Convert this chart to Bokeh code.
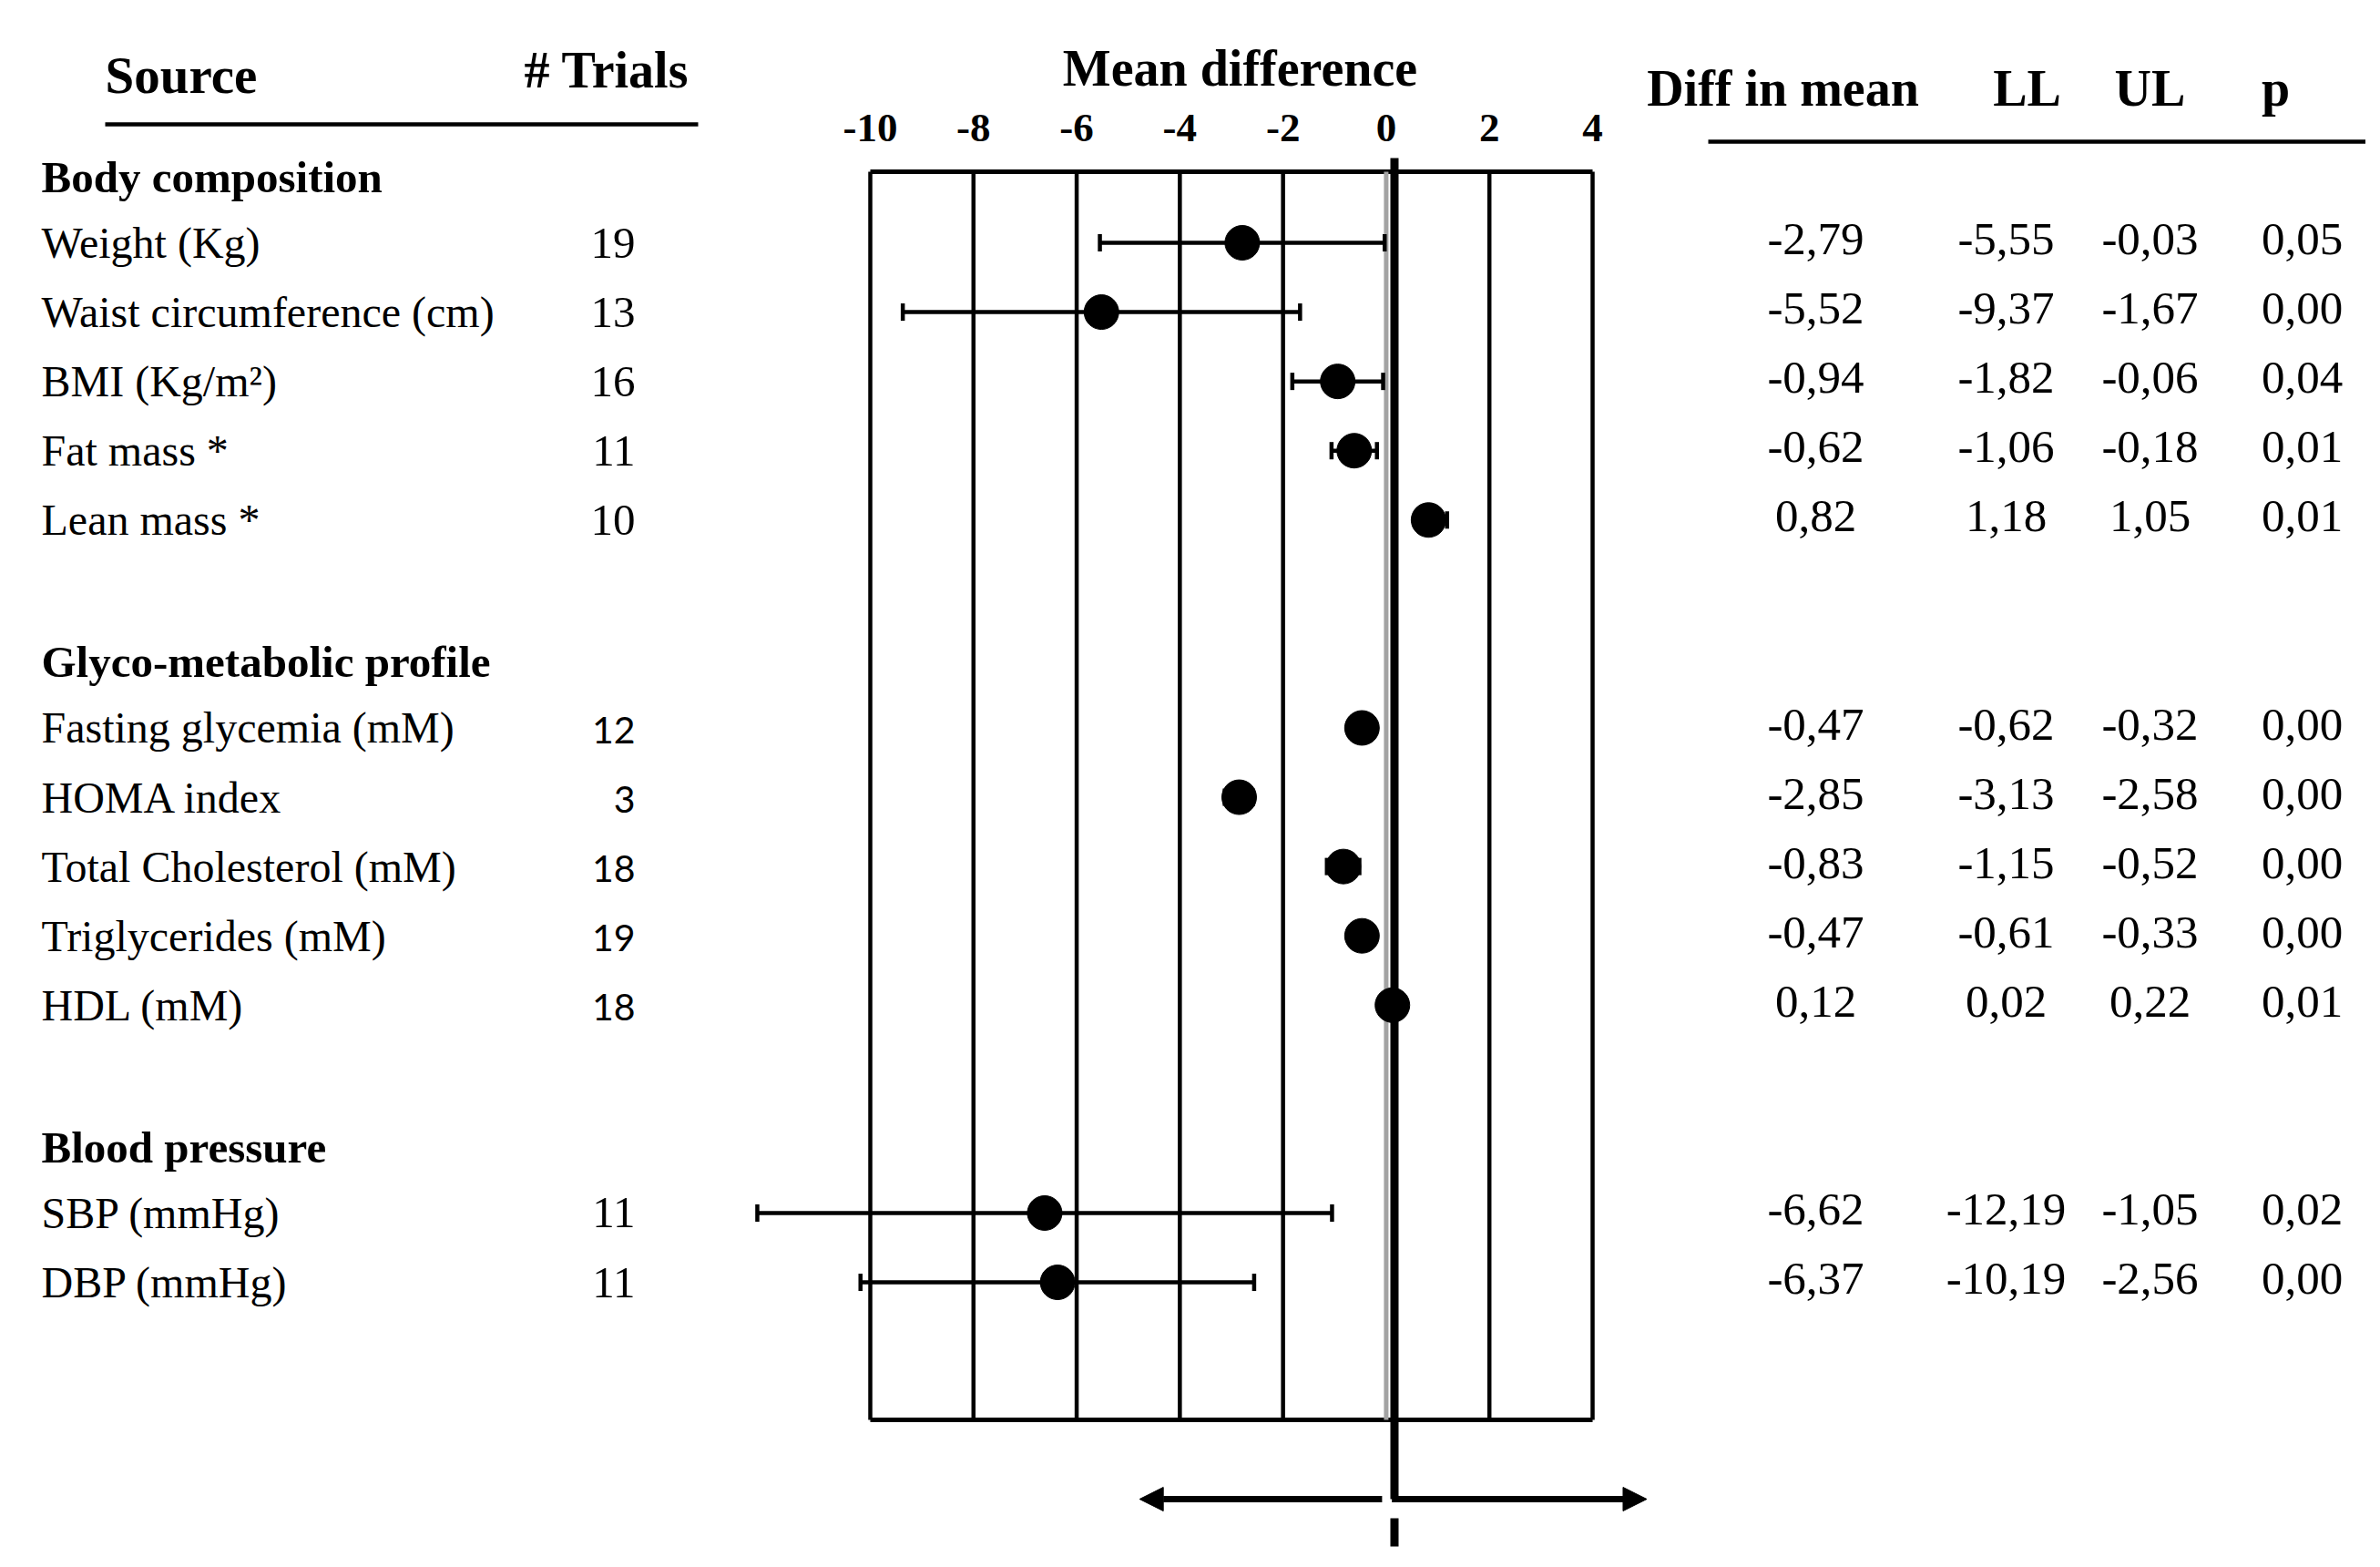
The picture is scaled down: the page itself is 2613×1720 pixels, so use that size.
from bokeh.plotting import figure
from bokeh.models import Range1d, Arrow, NormalHead
from bokeh.core.properties import value
from bokeh.embed import file_html
from bokeh.resources import INLINE

# ---------------- data ----------------
groups = ["Body composition", "Glyco-metabolic profile", "Blood pressure"]

body_labels = ["Weight (Kg)", "Waist circumference (cm)", "BMI (Kg/m\u00b2)", "Fat mass *", "Lean mass *"]
body_trials = [19, 13, 16, 11, 10]
body_diff = [-2.79, -5.52, -0.94, -0.62, 0.82]
body_ll = [-5.55, -9.37, -1.82, -1.06, 1.18]
body_ul = [-0.03, -1.67, -0.06, -0.18, 1.05]
body_p = [0.05, 0.00, 0.04, 0.01, 0.01]

glyco_labels = ["Fasting glycemia  (mM)", "HOMA index", "Total Cholesterol (mM)", "Triglycerides (mM)", "HDL (mM)"]
glyco_trials = [12, 3, 18, 19, 18]
glyco_diff = [-0.47, -2.85, -0.83, -0.47, 0.12]
glyco_ll = [-0.62, -3.13, -1.15, -0.61, 0.02]
glyco_ul = [-0.32, -2.58, -0.52, -0.33, 0.22]
glyco_p = [0.00, 0.00, 0.00, 0.00, 0.01]

bp_labels = ["SBP (mmHg)", "DBP (mmHg)"]
bp_trials = [11, 11]
bp_diff = [-6.62, -6.37]
bp_ll = [-12.19, -10.19]
bp_ul = [-1.05, -2.56]
bp_p = [0.02, 0.00]

x_ticks = [-10, -8, -6, -4, -2, 0, 2, 4]

# ---------------- layout constants (pixels) ----------------
W, H = 2597, 1704
X_LEFT_PX, X_RIGHT_PX = 955, 1748      # pixel positions of -10 and 4
FRAME_TOP_PX, FRAME_BOT_PX = 188, 1558
ROW0_PX, ROW_STEP = 266.0, 76.07
SERIF = value("Liberation Serif")
SANS = value("Lato")

k = (x_ticks[-1] - x_ticks[0]) / (X_RIGHT_PX - X_LEFT_PX)

p = figure(width=W, height=H,
           x_range=Range1d(0, W), y_range=Range1d(H, 0),
           output_backend="svg", toolbar_location=None,
           x_axis_location=None, y_axis_location=None, min_border=0)
p.title.visible = False
p.grid.visible = False
p.outline_line_color = None
p.background_fill_color = "white"
p.border_fill_color = "white"
p.extra_x_ranges = {"md": Range1d(x_ticks[0] - X_LEFT_PX * k,
                                  x_ticks[-1] + (W - X_RIGHT_PX) * k)}
p.extra_y_ranges = {"rows": Range1d((H - ROW0_PX) / ROW_STEP, -ROW0_PX / ROW_STEP)}

# ---------------- assemble rows ----------------
group_data = [
    (body_labels, body_trials, body_diff, body_ll, body_ul, body_p, "serif"),
    (glyco_labels, glyco_trials, glyco_diff, glyco_ll, glyco_ul, glyco_p, "sans"),
    (bp_labels, bp_trials, bp_diff, bp_ll, bp_ul, bp_p, "serif"),
]
rows, labels, trials, diffs, lls, uls, ps, tfonts = [], [], [], [], [], [], [], []
header_rows = []
r = 0
for (lab, tr, d, lo, hi, pv, tf) in group_data:
    header_rows.append(r - 0.95)
    for i in range(len(lab)):
        rows.append(r + i)
    labels += lab; trials += tr; diffs += d; lls += lo; uls += hi; ps += pv
    tfonts += [tf] * len(lab)
    r += len(lab) + 2

fmt = lambda v: ("%.2f" % v).replace(".", ",")

# ---------------- frame and grid ----------------
grid_x = [t for t in x_ticks if t != 0]
p.segment(x0=grid_x, x1=grid_x, y0=[FRAME_TOP_PX] * len(grid_x), y1=[FRAME_BOT_PX] * len(grid_x),
          line_color="black", line_width=4.5, x_range_name="md")
p.segment(x0=[x_ticks[0]] * 2, x1=[x_ticks[-1]] * 2, y0=[FRAME_TOP_PX, FRAME_BOT_PX],
          y1=[FRAME_TOP_PX, FRAME_BOT_PX], line_color="black", line_width=5, x_range_name="md")
p.segment(x0=[0], x1=[0], y0=[FRAME_TOP_PX], y1=[FRAME_BOT_PX], line_color="#a3a3a3",
          line_width=5, x_range_name="md")

# thick reference line, arrows, dashed tail
ref_x = 0.16
p.segment(x0=[ref_x], x1=[ref_x], y0=[173], y1=[1645], line_color="black",
          line_width=9, x_range_name="md")
p.segment(x0=[ref_x], x1=[ref_x], y0=[1666], y1=[1740], line_color="black",
          line_width=9, line_dash="31 20", x_range_name="md")
p.add_layout(Arrow(end=NormalHead(size=26, fill_color="black", line_color="black"),
                   x_start=-0.08, y_start=1645, x_end=-4.78, y_end=1645,
                   line_width=7, line_color="black", x_range_name="md"))
p.add_layout(Arrow(end=NormalHead(size=26, fill_color="black", line_color="black"),
                   x_start=ref_x - 0.05, y_start=1645, x_end=5.05, y_end=1645,
                   line_width=7, line_color="black", x_range_name="md"))

# ---------------- forest marks ----------------
p.segment(x0=lls, x1=uls, y0=rows, y1=rows, line_color="black", line_width=4.5,
          x_range_name="md", y_range_name="rows")
cap = 0.125
p.segment(x0=lls + uls, x1=lls + uls,
          y0=[y - cap for y in rows] * 2, y1=[y + cap for y in rows] * 2,
          line_color="black", line_width=4.5, x_range_name="md", y_range_name="rows")
p.scatter(x=diffs, y=rows, size=38, marker="circle", fill_color="black",
          line_color="black", x_range_name="md", y_range_name="rows")

# ---------------- top axis labels ----------------
p.text(x=x_ticks, y=[140] * len(x_ticks), text=[str(t) for t in x_ticks],
       text_font=SERIF, text_font_style="bold", text_font_size="45px",
       text_align="center", text_baseline="middle", x_range_name="md")
p.text(x=[1361], y=[74], text=["Mean difference"], text_font=SERIF,
       text_font_style="bold", text_font_size="56px", text_align="center",
       text_baseline="middle")

# ---------------- left table ----------------
p.text(x=[115], y=[82], text=["Source"], text_font=SERIF, text_font_style="bold",
       text_font_size="57px", text_align="left", text_baseline="middle")
p.text(x=[575], y=[76], text=["# Trials"], text_font=SERIF, text_font_style="bold",
       text_font_size="56px", text_align="left", text_baseline="middle")
p.segment(x0=[115], x1=[766], y0=[136], y1=[136], line_color="black", line_width=4.5)

p.text(x=[45] * len(groups), y=header_rows, text=groups, text_font=SERIF,
       text_font_style="bold", text_font_size="49px", text_align="left",
       text_baseline="middle", y_range_name="rows")
p.text(x=[45] * len(labels), y=rows, text=labels, text_font=SERIF,
       text_font_size="48px", text_align="left", text_baseline="middle",
       y_range_name="rows")
serif_idx = [i for i, f in enumerate(tfonts) if f == "serif"]
sans_idx = [i for i, f in enumerate(tfonts) if f == "sans"]
p.text(x=[697] * len(serif_idx), y=[rows[i] for i in serif_idx],
       text=[str(trials[i]) for i in serif_idx], text_font=SERIF,
       text_font_size="49px", text_align="right", text_baseline="middle",
       y_range_name="rows")
p.text(x=[697] * len(sans_idx), y=[rows[i] + 0.03 for i in sans_idx],
       text=[str(trials[i]) for i in sans_idx], text_font=SANS,
       text_font_size="41px", text_align="right", text_baseline="middle",
       y_range_name="rows")

# ---------------- right table ----------------
hdrs = ["Diff in mean", "LL", "UL", "p"]
p.text(x=[1957, 2225, 2360, 2498], y=[96] * 4, text=hdrs, text_font=SERIF,
       text_font_style="bold", text_font_size="56px", text_align="center",
       text_baseline="middle")
p.segment(x0=[1875], x1=[W + 10], y0=[155], y1=[155], line_color="black", line_width=4.5)

for cx, col in zip([1993, 2202, 2360, 2527], [diffs, lls, uls, ps]):
    p.text(x=[cx] * len(col), y=[y - 0.05 for y in rows], text=[fmt(v) for v in col],
           text_font=SERIF, text_font_size="51px", text_align="center",
           text_baseline="middle", y_range_name="rows")

open("out.html", "w").write(file_html(p, INLINE))
